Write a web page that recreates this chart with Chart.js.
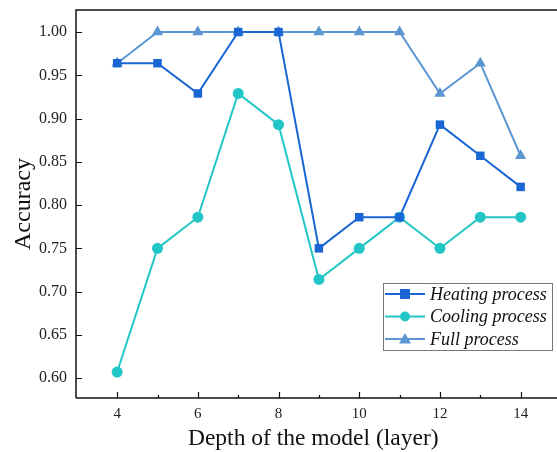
<!DOCTYPE html>
<html>
<head>
<meta charset="utf-8">
<script src="https://cdn.jsdelivr.net/npm/chart.js@4/dist/chart.umd.min.js"></script>
<style>
html,body{margin:0;padding:0;background:#fff;}
#wrap{width:557px;height:452px;position:relative;}
</style>
</head>
<body>
<div id="wrap"><canvas id="c" width="557" height="452"></canvas></div>
<script>
const depths = [4, 5, 6, 7, 8, 9, 10, 11, 12, 13, 14];
const heating = [0.964, 0.964, 0.929, 1.0, 1.0, 0.75, 0.786, 0.786, 0.893, 0.857, 0.821];
const cooling = [0.607, 0.75, 0.786, 0.929, 0.893, 0.714, 0.75, 0.786, 0.75, 0.786, 0.786];
const full = [0.964, 1.0, 1.0, 1.0, 1.0, 1.0, 1.0, 1.0, 0.929, 0.964, 0.857];
const xTicks = [4, 6, 8, 10, 12, 14];
const xMinorTicks = [5, 7, 9, 11, 13];
const yTicks = [0.60, 0.65, 0.70, 0.75, 0.80, 0.85, 0.90, 0.95, 1.00];
const seriesNames = ['Heating process', 'Cooling process', 'Full process'];
const colors = ['#1a66d4', '#22c6c6', '#5b96d2'];
const markers = ['rect', 'circle', 'triangle'];

const SERIF = '"Liberation Serif", "Times New Roman", serif';

function toPts(vals){ return depths.map((d,i)=>({x:d, y:vals[i]})); }

const frame = {
  id: 'frame',
  afterDraw(chart){
    const ctx = chart.ctx, a = chart.chartArea;
    const xs = chart.scales.x, ys = chart.scales.y;
    const R = chart.width;
    ctx.save();
    ctx.strokeStyle = '#111';
    ctx.lineWidth = 1.5;
    ctx.beginPath();
    ctx.moveTo(a.left, a.bottom); ctx.lineTo(a.left, a.top); ctx.lineTo(R, a.top);
    ctx.moveTo(a.left, a.bottom); ctx.lineTo(R, a.bottom);
    ctx.stroke();
    ctx.lineWidth = 1.2;
    ctx.beginPath();
    xTicks.forEach(v=>{ const px = Math.round(xs.getPixelForValue(v))+0.5; ctx.moveTo(px,a.bottom); ctx.lineTo(px,a.bottom-6); });
    xMinorTicks.forEach(v=>{ const px = Math.round(xs.getPixelForValue(v))+0.5; ctx.moveTo(px,a.bottom); ctx.lineTo(px,a.bottom-3); });
    yTicks.forEach(v=>{ const py = Math.round(ys.getPixelForValue(v))+0.5; ctx.moveTo(a.left,py); ctx.lineTo(a.left+6,py); });
    ctx.stroke();

    // legend
    const L = 383, T = 283, W = 169, H = 67;
    ctx.fillStyle = '#fff';
    ctx.fillRect(L, T, W, H);
    ctx.strokeStyle = '#777';
    ctx.lineWidth = 1;
    ctx.strokeRect(L+0.5, T+0.5, W, H);
    ctx.font = 'italic 18px ' + SERIF;
    ctx.textBaseline = 'middle';
    ctx.textAlign = 'left';
    chart.data.datasets.forEach((ds, i)=>{
      const y = T + 11 + i*22.5;
      ctx.strokeStyle = ds.borderColor; ctx.lineWidth = 2;
      ctx.beginPath(); ctx.moveTo(L+2, y); ctx.lineTo(L+42, y); ctx.stroke();
      ctx.fillStyle = ds.backgroundColor;
      const cx = L+22;
      if (ds.pointStyle === 'rect') { ctx.fillRect(cx-5, y-5, 10, 10); }
      else if (ds.pointStyle === 'circle') { ctx.beginPath(); ctx.arc(cx, y, 5, 0, Math.PI*2); ctx.fill(); }
      else { ctx.beginPath(); ctx.moveTo(cx, y-6); ctx.lineTo(cx+6, y+4.5); ctx.lineTo(cx-6, y+4.5); ctx.closePath(); ctx.fill(); }
      ctx.fillStyle = '#111';
      ctx.fillText(ds.label, L+47, y+1);
    });
    ctx.restore();
  }
};

const mk = (i, vals, r) => ({
  label: seriesNames[i],
  data: toPts(vals),
  borderColor: colors[i],
  backgroundColor: colors[i],
  pointStyle: markers[i],
  pointRadius: r,
  pointHoverRadius: r,
  pointBorderWidth: 0,
  borderWidth: 2,
  tension: 0,
  clip: false
});

new Chart(document.getElementById('c'), {
  type: 'line',
  data: {
    datasets: [
      mk(2, full, 6.5),
      mk(1, cooling, 5.5),
      mk(0, heating, 6)
    ].reverse()
  },
  options: {
    responsive: false,
    animation: false,
    layout: { padding: { top: 10, right: 0, left: 0, bottom: 0 } },
    plugins: { legend: { display: false }, tooltip: { enabled: false } },
    scales: {
      x: {
        type: 'linear', min: 2.98, max: 14.74,
        afterBuildTicks: s => { s.ticks = xTicks.map(v=>({value:v})); },
        afterFit: s => { s.height = 54; s.paddingLeft = 0; s.paddingRight = 0; },
        grid: { display: false, drawTicks: false },
        border: { display: false },
        ticks: { padding: 7, color: '#222', font: { family: SERIF, size: 15 }, maxRotation: 0 },
        title: { display: true, text: 'Depth of the model (layer)', color: '#111', font: { family: SERIF, size: 23.5, lineHeight: 1.1 }, padding: { top: 0, bottom: 0 } }
      },
      y: {
        min: 0.577, max: 1.0255,
        afterBuildTicks: s => { s.ticks = yTicks.map(v=>({value:v})); },
        afterFit: s => { s.width = 76; s.paddingTop = 0; s.paddingBottom = 0; },
        grid: { display: false, drawTicks: false },
        border: { display: false },
        ticks: { padding: 9, color: '#222', font: { family: SERIF, size: 16 }, callback: v => Number(v).toFixed(2) },
        title: { display: true, text: 'Accuracy', color: '#111', font: { family: SERIF, size: 24 }, padding: { top: 9, bottom: 0 } }
      }
    }
  },
  plugins: [frame]
});
</script>
</body>
</html>
